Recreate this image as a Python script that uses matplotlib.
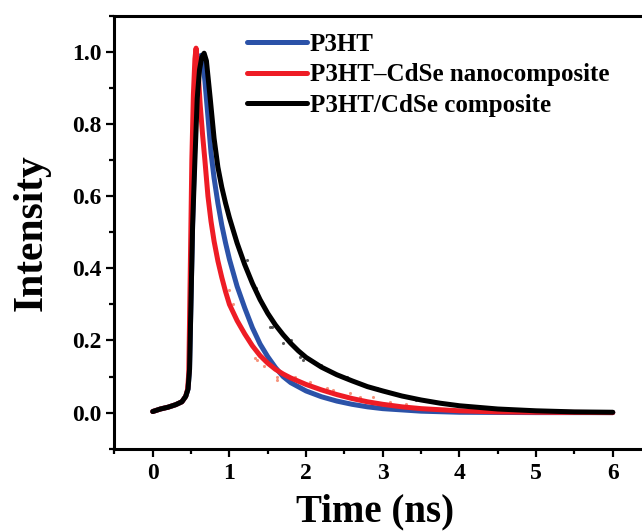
import matplotlib
matplotlib.use("Agg")
import matplotlib.pyplot as plt
from matplotlib.ticker import MultipleLocator

plt.rcParams['font.family'] = 'Liberation Serif'
plt.rcParams['font.weight'] = 'bold'

# values (time in ns, normalised intensity)
t_p3ht = [0, 0.1, 0.2, 0.3, 0.38, 0.43, 0.46, 0.48, 0.50, 0.52, 0.545, 0.57, 0.60, 0.63,
          0.65, 0.68, 0.72, 0.76, 0.80, 0.85, 0.90, 0.95, 1.0, 1.1, 1.2, 1.3, 1.4, 1.5,
          1.6, 1.7, 1.8, 2.0, 2.2, 2.4, 2.6, 2.8, 3.0, 3.5, 4.0, 5.0, 6.0]
i_p3ht = [0.003, 0.01, 0.015, 0.022, 0.03, 0.045, 0.065, 0.12, 0.32, 0.52, 0.72, 0.88, 0.96,
          0.99, 0.975, 0.92, 0.82, 0.72, 0.65, 0.58, 0.52, 0.47, 0.425, 0.35, 0.29, 0.235,
          0.19, 0.155, 0.125, 0.10, 0.083, 0.06, 0.044, 0.032, 0.023, 0.016, 0.011, 0.004,
          0.001, 0.0, 0.0]

t_nano = [0, 0.1, 0.2, 0.3, 0.38, 0.43, 0.455, 0.47, 0.49, 0.51, 0.53, 0.55, 0.565, 0.59,
          0.62, 0.65, 0.68, 0.72, 0.76, 0.80, 0.85, 0.90, 0.95, 1.0, 1.1, 1.2, 1.3, 1.4,
          1.5, 1.6, 1.7, 1.8, 2.0, 2.2, 2.4, 2.6, 2.8, 3.0, 3.25, 3.5, 4.0, 4.5, 5.0, 6.0]
i_nano = [0.003, 0.01, 0.015, 0.022, 0.03, 0.045, 0.065, 0.11, 0.40, 0.70, 0.88, 0.98, 1.01,
          0.95, 0.85, 0.77, 0.70, 0.60, 0.53, 0.475, 0.42, 0.375, 0.335, 0.30, 0.255, 0.218,
          0.185, 0.158, 0.137, 0.12, 0.107, 0.096, 0.078, 0.063, 0.05, 0.039, 0.03, 0.023,
          0.016, 0.011, 0.005, 0.002, 0.001, 0.0]

t_comp = [0, 0.1, 0.2, 0.3, 0.38, 0.43, 0.46, 0.48, 0.50, 0.52, 0.55, 0.58, 0.61, 0.64,
          0.67, 0.70, 0.75, 0.80, 0.85, 0.90, 0.95, 1.0, 1.1, 1.2, 1.3, 1.4, 1.5, 1.6,
          1.7, 1.8, 1.9, 2.0, 2.2, 2.4, 2.6, 2.8, 3.0, 3.25, 3.5, 3.75, 4.0, 4.5, 5.0,
          5.5, 6.0]
i_comp = [0.003, 0.01, 0.015, 0.022, 0.03, 0.045, 0.065, 0.12, 0.32, 0.52, 0.70, 0.87, 0.95,
          0.985, 0.996, 0.975, 0.87, 0.76, 0.68, 0.625, 0.58, 0.54, 0.47, 0.41, 0.358,
          0.313, 0.275, 0.243, 0.216, 0.192, 0.171, 0.153, 0.126, 0.105, 0.088, 0.072,
          0.06, 0.046, 0.035, 0.026, 0.019, 0.01, 0.005, 0.002, 0.001]

# stray raw-data dots visible around the fitted lines
t_nano_dots = [0.99, 1.05, 1.18, 1.25, 1.33, 1.36, 1.45, 1.62, 1.62, 1.85, 2.05, 2.27,
               2.35, 2.57, 2.70, 2.87, 3.09, 3.3]
i_nano_dots = [0.34, 0.30, 0.229, 0.205, 0.151, 0.146, 0.13, 0.09, 0.099, 0.1, 0.085,
               0.067, 0.062, 0.054, 0.044, 0.044, 0.03, 0.024]
t_comp_dots = [1.23, 1.35, 1.53, 1.55, 1.70, 1.80, 1.92, 1.96, 2.2, 2.53, 2.53, 2.92,
               3.2, 3.44]
i_comp_dots = [0.423, 0.345, 0.238, 0.238, 0.192, 0.2, 0.155, 0.146, 0.132, 0.095,
               0.099, 0.067, 0.05, 0.035]

labels = ['P3HT', 'P3HT\u2013CdSe nanocomposite', 'P3HT/CdSe composite']
colors = ['#2b52a8', '#ee1c25', '#000000']

fig = plt.figure(figsize=(6.42, 5.31), dpi=100)
ax = fig.add_axes([0.1782, 0.155, 0.836, 0.8155])

ax.scatter(t_nano_dots, i_nano_dots, s=5, color='#f47a5c', alpha=0.8, lw=0, zorder=1)
ax.scatter(t_comp_dots, i_comp_dots, s=5, color='#333333', alpha=0.8, lw=0, zorder=1)
ax.plot(t_p3ht, i_p3ht, color=colors[0], lw=3.6, label=labels[0],
        solid_capstyle='round', solid_joinstyle='round', zorder=2)
ax.plot(t_nano, i_nano, color=colors[1], lw=3.6, label=labels[1],
        solid_capstyle='round', solid_joinstyle='round', zorder=3)
ax.plot(t_comp, i_comp, color=colors[2], lw=3.6, label=labels[2],
        solid_capstyle='round', solid_joinstyle='round', zorder=4)

ax.set_xlim(-0.5, 6.5)
ax.set_ylim(-0.1, 1.1)
ax.xaxis.set_major_locator(MultipleLocator(1))
ax.xaxis.set_minor_locator(MultipleLocator(0.5))
ax.yaxis.set_minor_locator(MultipleLocator(0.1))
ax.set_yticks([0.0, 0.2, 0.4, 0.6, 0.8, 1.0])
ax.set_yticklabels(['0.0', '0.2', '0.4', '0.6', '0.8', '1.0'])

for s in ax.spines.values():
    s.set_linewidth(2.2)
ax.tick_params(which='major', direction='out', length=6, width=1.6, labelsize=17, pad=3)
ax.tick_params(which='minor', direction='out', length=3.5, width=1.6)
ax.tick_params(axis='x', which='major', pad=4)

ax.set_xlabel('Time (ns)', fontsize=28, fontweight='bold')
ax.set_ylabel('Intensity', fontsize=30, fontweight='bold')
ax.xaxis.set_label_coords(0.486, -0.103)
ax.yaxis.set_label_coords(-0.118, 0.5)

leg = ax.legend(loc='upper left', bbox_to_anchor=(247 / 642, 1 - 33 / 531),
                bbox_transform=fig.transFigure, frameon=False, fontsize=18,
                handlelength=2.4, handletextpad=0.12, labelspacing=0.3,
                borderpad=0, borderaxespad=0)

fig.savefig('out.png', dpi=100)
